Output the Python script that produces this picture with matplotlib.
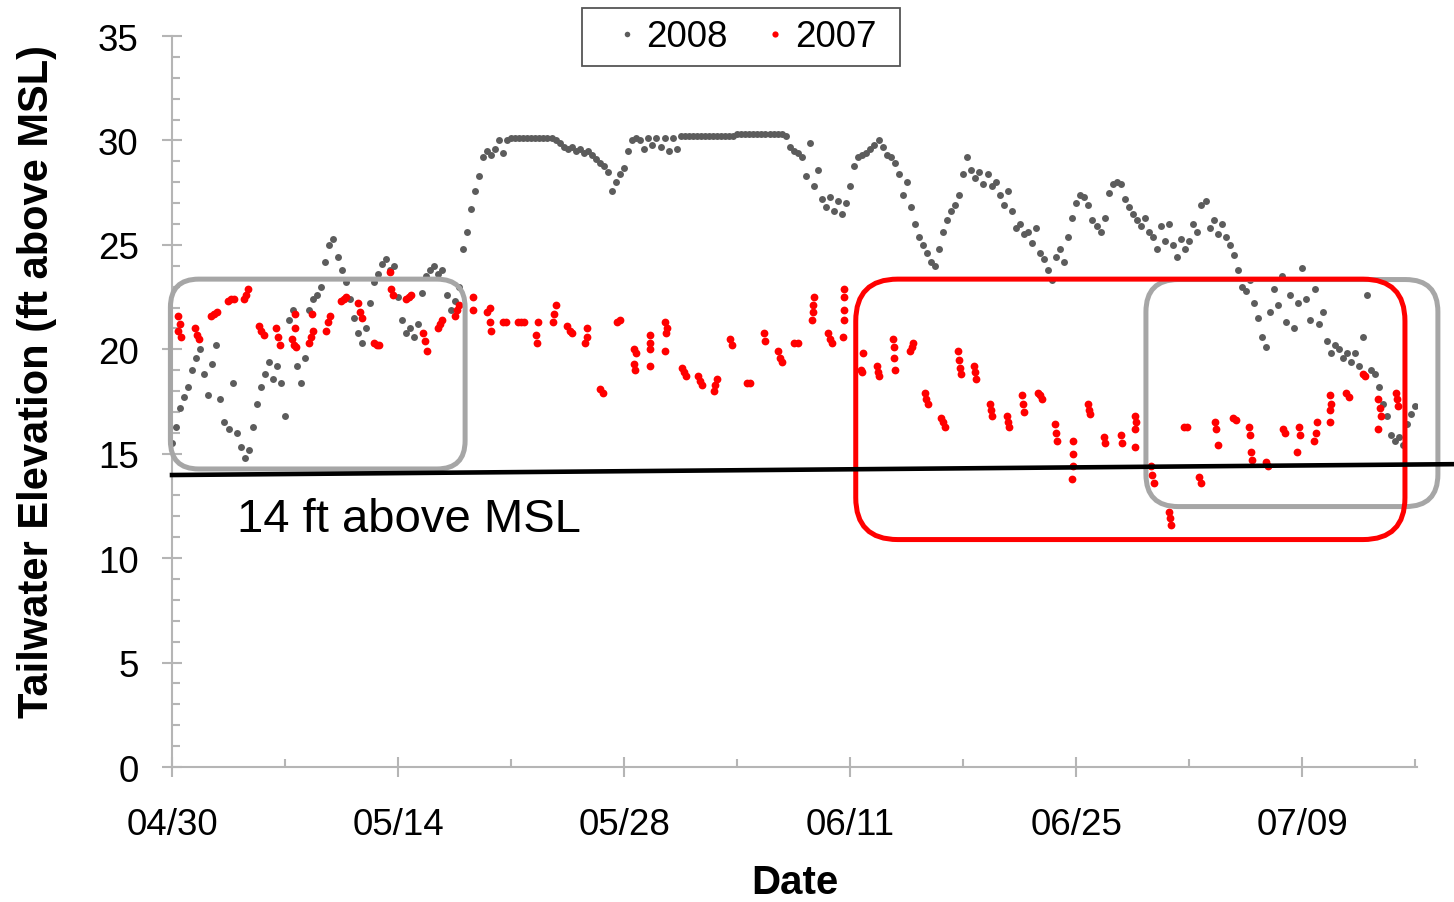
import numpy as np
import matplotlib
matplotlib.use("Agg")
import matplotlib.pyplot as plt
from matplotlib.patches import FancyBboxPatch, Rectangle
from matplotlib.ticker import MultipleLocator, FixedLocator

plt.rcParams['font.family'] = ['Liberation Sans', 'DejaVu Sans']

# 2008 tailwater elevation, 6-hourly readings starting 04/30
elev_2008 = [
    15.5, 16.3, 17.2, 17.7, 18.2, 19.0, 19.6, 20.0, 18.8, 17.8, 19.3, 20.2,
    17.6, 16.5, 16.2, 18.4, 16.0, 15.3, 14.8, 15.2, 16.3, 17.4, 18.2, 18.8,
    19.4, 18.6, 19.2, 18.4, 16.8, 21.4, 21.9, 19.2, 18.4, 19.6, 21.9, 22.4,
    22.6, 23.0, 24.2, 25.0, 25.3, 24.4, 23.8, 23.2, 22.4, 21.5, 20.8, 20.3,
    21.0, 22.2, 23.2, 23.6, 24.1, 24.3, 23.8, 24.0, 22.5, 21.4, 20.8, 21.0,
    20.6, 21.2, 22.7, 23.5, 23.8, 24.0, 23.6, 23.8, 22.6, 21.9, 22.3, 23.0,
    24.8, 25.6, 26.7, 27.6, 28.3, 29.2, 29.5, 29.3, 29.6, 30.0, 29.4, 30.0,
    30.1, 30.1, 30.1, 30.1, 30.1, 30.1, 30.1, 30.1, 30.1, 30.1, 30.1, 30.0,
    29.9, 29.7, 29.6, 29.7, 29.5, 29.6, 29.4, 29.5, 29.3, 29.1, 28.9, 28.8,
    28.5, 27.6, 28.0, 28.4, 28.7, 29.5, 30.0, 30.1, 30.0, 29.6, 30.1, 29.8,
    30.1, 29.7, 30.1, 29.5, 30.1, 29.6, 30.2, 30.2,
    30.2, 30.2, 30.2, 30.2, 30.2, 30.2, 30.2, 30.2, 30.2, 30.2, 30.2, 30.2,
    30.3, 30.3, 30.3, 30.3, 30.3, 30.3, 30.3, 30.3, 30.3, 30.3, 30.3, 30.3,
    30.2, 29.7, 29.5, 29.4, 29.2, 28.3, 29.9, 27.8, 28.6, 27.2, 26.8, 27.3,
    26.6, 27.1, 26.5, 27.0, 27.8, 28.8, 29.2, 29.3, 29.4, 29.6, 29.8, 30.0,
    29.7, 29.3, 29.2, 28.9, 28.4, 27.4, 28.0, 26.8, 26.0, 25.4, 25.0, 24.6,
    24.2, 24.0, 24.8, 25.6, 26.2, 26.6, 26.9, 27.4, 28.4, 29.2, 28.6, 28.2,
    28.5, 27.9, 28.4, 27.8, 28.0, 27.4, 26.9, 27.6, 26.6, 25.8, 26.0, 25.5,
    25.6, 25.1, 25.8, 24.6, 24.3, 23.8, 23.3, 24.4, 24.8, 24.2, 25.4, 26.3,
    27.0, 27.4, 27.3, 26.9, 26.2, 25.9, 25.6, 26.3, 27.5, 27.9, 28.0, 27.9,
    27.2, 26.8, 26.5, 26.2, 25.9, 26.3, 25.6, 25.4, 24.8, 25.9, 25.2, 26.0,
    25.0, 24.4, 25.3, 24.8, 25.2, 26.0, 25.6, 26.9, 27.1, 25.8, 26.2, 25.5,
    26.0, 25.4, 25.0, 24.5, 23.8, 23.0, 22.8, 23.3, 22.2, 21.5, 20.6, 20.1,
    21.8, 22.9, 22.1, 23.5, 21.3, 22.6, 21.0, 22.2, 23.9, 22.4, 21.4, 22.9,
    21.2, 21.8, 20.4, 19.8, 20.2, 20.0, 19.6, 19.8, 19.4, 19.8, 19.2, 20.6,
    22.6, 19.0, 18.8, 18.2, 17.4, 16.8, 15.9, 15.6, 15.8, 15.4, 16.4, 16.9,
    17.3,
]
day_2008 = np.arange(len(elev_2008)) / 4.0

# 2007 readings, days after 04/30
day_2007 = [
    0.37, 0.50, 0.37, 0.56, 1.42, 1.55, 1.67, 2.42, 2.60, 2.79,
    3.47, 3.65, 3.84, 4.46, 4.58, 4.71, 5.39, 5.51, 5.70, 6.44, 6.57, 6.69,
    7.43, 7.56, 7.68, 7.62, 7.62, 8.49, 8.61, 8.73, 8.67, 9.54, 9.66, 9.79,
    10.47, 10.65, 10.78, 11.52, 11.65, 11.77, 12.51, 12.70, 12.82,
    13.51, 13.57, 13.69, 14.50, 14.68, 14.81, 15.55, 15.67, 15.80,
    16.48, 16.60, 16.73, 17.53, 17.65, 17.78, 18.65, 18.65,
    19.51, 19.70, 19.70, 19.76, 20.50, 20.69, 21.43, 21.62, 21.81,
    22.67, 22.55, 22.61, 23.60, 23.66, 23.79, 24.47, 24.65, 24.78,
    25.71, 25.71, 25.58, 26.51, 26.70, 27.57, 27.75,
    28.62, 28.74, 28.62, 28.68, 29.61, 29.61, 29.61, 29.61,
    30.54, 30.66, 30.60, 30.54, 31.59, 31.72, 31.84, 32.58, 32.71, 32.83,
    33.57, 33.64, 33.76, 34.57, 34.69, 35.62, 35.80, 36.67, 36.73,
    37.54, 37.66, 37.79, 38.53, 38.78, 39.65, 39.71, 39.71, 39.77,
    40.64, 40.76, 40.89, 41.63, 41.63, 41.63, 41.63, 41.57,
    42.80, 42.74, 42.68, 43.67, 43.73, 43.80, 44.66, 44.73, 44.73, 44.79,
    45.71, 45.83, 45.90, 46.65, 46.71, 46.84, 47.64, 47.76, 47.88,
    48.69, 48.75, 48.81, 48.88, 49.68, 49.74, 49.81, 50.67, 50.73, 50.80,
    51.72, 51.79, 51.85, 52.65, 52.72, 52.78, 53.65, 53.77, 53.89,
    54.70, 54.76, 54.82, 55.81, 55.81, 55.81, 55.75, 56.74, 56.80, 56.87,
    57.73, 57.80, 58.79, 58.85, 59.65, 59.72, 59.65, 59.65,
    60.65, 60.71, 60.83, 61.76, 61.82, 61.88, 62.69, 62.88, 63.62, 63.74,
    64.61, 64.67, 64.80, 65.73, 65.91, 66.72, 66.78, 66.84, 66.90,
    67.77, 67.89, 68.82, 68.95, 69.81, 69.87, 69.69, 70.74, 70.87, 70.93,
    71.73, 71.80, 71.73, 71.73, 72.72, 72.91, 73.78, 73.90,
    74.71, 74.83, 74.89, 74.71, 75.82, 75.88, 75.95,
]
elev_2007 = [
    21.6, 21.2, 20.9, 20.6, 21.0, 20.7, 20.5, 21.6, 21.7, 21.8,
    22.3, 22.4, 22.4, 22.4, 22.6, 22.9, 21.1, 20.9, 20.7, 21.0, 20.6, 20.2,
    20.5, 20.2, 20.1, 21.0, 21.7, 20.3, 20.6, 20.9, 21.7, 20.9, 21.3, 21.6,
    22.3, 22.4, 22.5, 22.2, 21.8, 21.5, 20.3, 20.2, 20.2,
    23.7, 22.9, 22.6, 22.4, 22.5, 22.6, 20.8, 20.4, 19.9,
    21.0, 21.2, 21.4, 21.6, 21.9, 22.1, 22.5, 21.9,
    21.8, 22.0, 21.3, 20.9, 21.3, 21.3, 21.3, 21.3, 21.3,
    21.3, 20.7, 20.3, 21.3, 21.7, 22.1, 21.1, 20.9, 20.8,
    21.0, 20.6, 20.3, 18.1, 17.9, 21.3, 21.4,
    20.0, 19.8, 19.3, 19.0, 20.7, 20.3, 20.0, 19.2,
    21.3, 21.0, 20.8, 19.9, 19.1, 18.9, 18.7, 18.7, 18.5, 18.3,
    18.0, 18.3, 18.6, 20.5, 20.2, 18.4, 18.4, 20.8, 20.4,
    19.9, 19.6, 19.4, 20.3, 20.3, 21.4, 21.8, 22.1, 22.5,
    20.8, 20.5, 20.3, 22.9, 22.5, 21.9, 21.4, 20.6,
    19.8, 18.9, 19.0, 19.2, 18.9, 18.7, 20.5, 20.1, 19.6, 19.0,
    19.9, 20.1, 20.3, 17.9, 17.6, 17.4, 16.7, 16.5, 16.3,
    19.9, 19.5, 19.1, 18.8, 19.2, 18.9, 18.6, 17.4, 17.1, 16.8,
    16.8, 16.5, 16.3, 17.8, 17.4, 17.0, 17.9, 17.8, 17.6,
    16.4, 16.0, 15.6, 15.6, 15.0, 14.4, 13.8, 17.4, 17.1, 16.9,
    15.8, 15.5, 15.9, 15.5, 16.8, 16.5, 16.2, 15.3,
    14.4, 14.0, 13.6, 12.2, 11.9, 11.6, 16.3, 16.3, 13.9, 13.6,
    16.5, 16.2, 15.4, 16.7, 16.6, 16.3, 15.9, 15.1, 14.7,
    14.6, 14.4, 16.2, 16.0, 16.3, 15.9, 15.1, 15.6, 16.0, 16.5,
    17.8, 17.4, 17.1, 16.5, 17.9, 17.7, 18.8, 18.7,
    17.6, 17.2, 16.8, 16.2, 17.9, 17.6, 17.3,
]

tick_days = [0, 14, 28, 42, 56, 70]
tick_labels = ["04/30", "05/14", "05/28", "06/11", "06/25", "07/09"]

fig = plt.figure(figsize=(14.54, 9.03), dpi=100)
ax = fig.add_axes([0.1183, 0.1495, 0.8563, 0.8095])

g, = ax.plot(day_2008, elev_2008, linestyle="none", marker="o",
             markersize=5.0, markeredgewidth=0, color="#5c5c5c", zorder=3)
r, = ax.plot(day_2007, elev_2007, linestyle="none", marker="o",
             markersize=5.6, markeredgewidth=0, color="#ff0000", zorder=4)

ax.set_xlim(0, 77.1)
ax.set_ylim(0, 35)

axis_grey = "#b5b5b5"
for side in ["top", "right"]:
    ax.spines[side].set_visible(False)
for side in ["left", "bottom"]:
    ax.spines[side].set_color(axis_grey)
    ax.spines[side].set_linewidth(1.5)

ax.xaxis.set_major_locator(FixedLocator(tick_days))
ax.set_xticklabels(tick_labels)
ax.xaxis.set_minor_locator(MultipleLocator(7))
ax.yaxis.set_major_locator(MultipleLocator(5))
ax.yaxis.set_minor_locator(MultipleLocator(1))
ax.tick_params(which="major", direction="inout", length=14, width=1.5,
               color=axis_grey, labelsize=26.5, labelcolor="black")
ax.tick_params(axis="x", which="major", pad=22)
ax.tick_params(axis="y", which="major", pad=17)
ax.tick_params(which="minor", direction="in", length=6, width=1.5,
               color=axis_grey)

fig.text(0.5468, 0.001, "Date", ha="center", va="bottom",
         fontsize=29, fontweight="bold")
fig.text(0.0255, 0.577, "Tailwater Elevation (ft above MSL)", ha="center",
         va="center", rotation=90, fontsize=30, fontweight="bold")

# highlight boxes
px_ratio = 16.14 / 20.89
boxes = [
    ((-0.1, 14.27), 18.25, 9.09, 1.75, "#a6a6a6"),
    ((60.31, 12.47), 18.08, 10.87, 2.0, "#a6a6a6"),
    ((42.34, 10.89), 34.01, 12.47, 2.6, "#ff0000"),
]
for (x0, y0), w, h, rad, col in boxes:
    ax.add_patch(FancyBboxPatch((x0, y0), w, h,
                                boxstyle="round,pad=0,rounding_size=%g" % rad,
                                mutation_aspect=px_ratio, fill=False,
                                edgecolor=col, linewidth=3.6, clip_on=False,
                                zorder=5))

# 14 ft reference line
ax.plot([0, 79.42], [13.98, 14.5], color="black", linewidth=3.3,
        clip_on=False, zorder=6)
ax.text(4.03, 11.3, "14 ft above MSL", fontsize=34, ha="left",
        va="baseline")

leg = ax.legend([g, r], ["2008", "2007"], ncol=2, loc="center",
                bbox_to_anchor=(0.5134, 0.958), bbox_transform=fig.transFigure,
                frameon=False, fontsize=26.5, handlelength=0.54,
                handletextpad=0.27, columnspacing=1.0, borderpad=0,
                borderaxespad=0, markerscale=0.8)
fig.patches.append(Rectangle((582 / 1454, 1 - 67 / 903), 318 / 1454, 58 / 903,
                             transform=fig.transFigure, fill=False,
                             edgecolor="#555555", linewidth=1.3))

fig.savefig("out.png", dpi=100)
